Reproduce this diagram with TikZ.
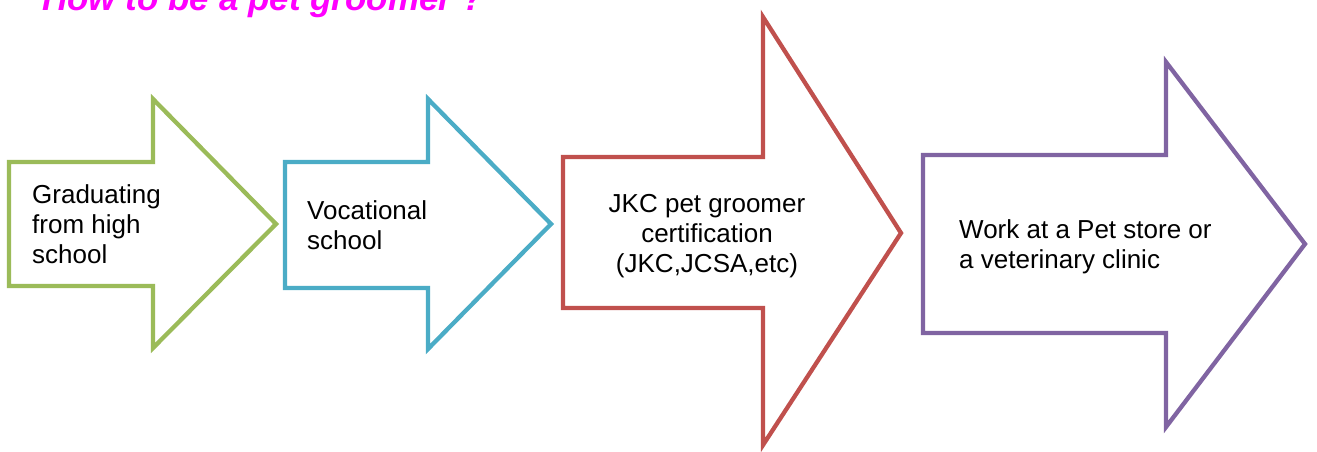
\documentclass[tikz,border=0pt]{standalone}
\usepackage{fontspec}
\setmainfont{Liberation Sans}
\definecolor{agreen}{HTML}{9BBB59}
\definecolor{ablue}{HTML}{4BACC6}
\definecolor{ared}{HTML}{C0504D}
\definecolor{apurple}{HTML}{8064A2}
\definecolor{titlemag}{HTML}{FF00FF}
\begin{document}
\begin{tikzpicture}[x=1pt,y=-1pt,
  arrowshape/.style={line width=4.3pt, line join=miter, fill=white},
  label/.style={inner sep=0pt, font=\fontsize{26}{30}\selectfont, text=black}]
\useasboundingbox (0,0) rectangle (1317,451);
\clip (0,0) rectangle (1317,451);
% title
\node[anchor=base west, inner sep=0pt, text=titlemag, font=\fontsize{35}{40}\selectfont\bfseries\itshape] (title) at (42,10) {How to be a pet groomer ?};
% arrows
\draw[arrowshape, draw=agreen] (9,162) -- (153,162) -- (153,99) -- (276,224) -- (153,348) -- (153,286) -- (9,286) -- cycle;
\draw[arrowshape, draw=ablue] (285,162) -- (428,162) -- (428,99) -- (551,224) -- (428,349) -- (428,288) -- (285,288) -- cycle;
\draw[arrowshape, draw=ared] (563,157) -- (763,157) -- (763,17) -- (901,233) -- (763,445) -- (763,308) -- (563,308) -- cycle;
\draw[arrowshape, draw=apurple] (923,155) -- (1166,155) -- (1166,62) -- (1305,244) -- (1166,427) -- (1166,333) -- (923,333) -- cycle;
% labels (base anchor = last line's baseline)
\node[label, anchor=base west, align=left] (t1) at (32,263) {Graduating\\from high\\school};
\node[label, anchor=base west, align=left] (t2) at (307,249) {Vocational\\school};
\node[label, anchor=base, align=center] (t3) at (707,272) {JKC pet groomer\\certification\\(JKC,JCSA,etc)};
\node[label, anchor=base west, align=left] (t4) at (959,268) {Work at a Pet store or\\a veterinary clinic};
\end{tikzpicture}
\end{document}
